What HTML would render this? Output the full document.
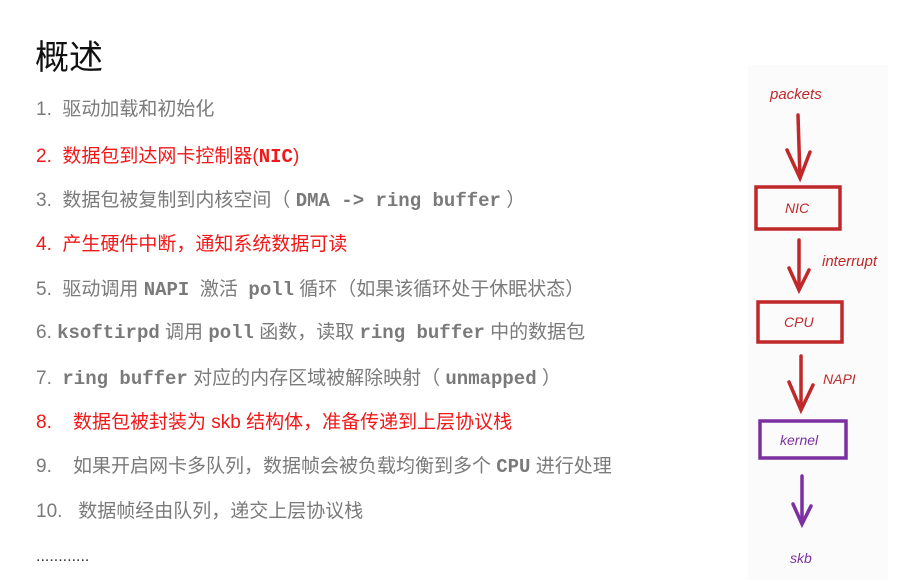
<!DOCTYPE html>
<html><head><meta charset="utf-8"><style>
body{margin:0;width:923px;height:586px;background:#fff;position:relative;overflow:hidden;font-family:"Liberation Sans","Noto Sans CJK SC",sans-serif}
.t{position:absolute;left:36px;font-size:19px;color:#7a7a7a;white-space:nowrap;line-height:22px}
.r{color:#f01818}
.m{font-family:"Liberation Mono","Noto Sans CJK SC",monospace;font-weight:bold}
h1{position:absolute;left:35px;top:38px;margin:0;font-size:34px;font-weight:normal;color:#111;line-height:40px}
</style></head><body>
<div style="position:absolute;left:748px;top:65px;width:140px;height:515px;background:#fbfbfb"></div>
<h1>概述</h1>
<div class="t" style="top:99px">1.&nbsp; 驱动加载和初始化</div>
<div class="t r" style="top:146px">2.&nbsp; 数据包到达网卡控制器(<span class="m">NIC</span>)</div>
<div class="t" style="top:190px">3.&nbsp; 数据包被复制到内核空间（ <span class="m">DMA -&gt; ring buffer</span> ）</div>
<div class="t r" style="top:234px">4.&nbsp; 产生硬件中断，通知系统数据可读</div>
<div class="t" style="top:279px">5.&nbsp; 驱动调用 <span class="m">NAPI</span> &nbsp;激活 &nbsp;<span class="m">poll</span> 循环（如果该循环处于休眠状态）</div>
<div class="t" style="top:322px">6.&nbsp;<span class="m">ksoftirpd</span> 调用 <span class="m">poll</span> 函数，读取 <span class="m">ring buffer</span> 中的数据包</div>
<div class="t" style="top:368px">7.&nbsp; <span class="m">ring buffer</span> 对应的内存区域被解除映射（ <span class="m">unmapped</span> ）</div>
<div class="t r" style="top:412px">8.&nbsp;&nbsp;&nbsp; 数据包被封装为 skb 结构体，准备传递到上层协议栈</div>
<div class="t" style="top:456px">9.&nbsp;&nbsp;&nbsp; 如果开启网卡多队列，数据帧会被负载均衡到多个 <span class="m">CPU</span> 进行处理</div>
<div class="t" style="top:501px">10.&nbsp;&nbsp; 数据帧经由队列，递交上层协议栈</div>
<div class="t" style="top:546px;color:#333;font-size:16px">............</div>
<svg width="923" height="586" style="position:absolute;left:0;top:0" font-family="Liberation Sans, sans-serif">
<g fill="none" stroke="#c0282a" stroke-width="3.5" stroke-linecap="round">
<line x1="798" y1="115" x2="800" y2="178"/><polyline points="787,150 800,178 810,152"/>
<rect x="756" y="187" width="84" height="42"/>
<line x1="799" y1="240" x2="799" y2="288"/><polyline points="789,268 799,290 809,270"/>
<rect x="758" y="302" width="84" height="40"/>
<line x1="801" y1="356" x2="801" y2="408"/><polyline points="789,382 801,410 813,385"/>
</g>
<g fill="none" stroke="#7c2fa0" stroke-width="3.5" stroke-linecap="round">
<rect x="760" y="421" width="86" height="37"/>
<line x1="802" y1="476" x2="802" y2="522"/><polyline points="793,504 802,524 811,506"/>
</g>
<g fill="#c0282a" font-size="15" font-style="italic">
<text x="770" y="99">packets</text>
<text x="785" y="213" font-size="14">NIC</text>
<text x="822" y="266">interrupt</text>
<text x="784" y="327" font-size="14">CPU</text>
<text x="823" y="384" font-size="14">NAPI</text>
</g>
<g fill="#7c2fa0" font-size="14" font-style="italic">
<text x="780" y="445">kernel</text>
<text x="790" y="563">skb</text>
</g>
</svg>
</body></html>
